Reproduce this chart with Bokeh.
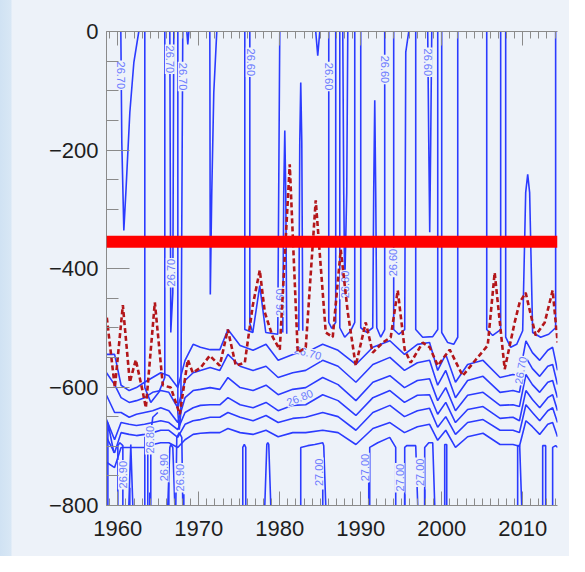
import math
from bokeh.plotting import figure
from bokeh.models import Range1d, FixedTicker, LinearAxis, Span, ColumnDataSource
from bokeh.embed import file_html
from bokeh.resources import INLINE
from bokeh.core.properties import value

# ---------------- data ----------------
# stacked isopycnals in the thermocline band (year, depth m)
stack_years = [1958.6, 1959.6, 1960.4, 1961.4, 1962.3, 1963.3, 1964.3, 1965.3, 1966.3, 1967.4,
               1968.3, 1969.3, 1970.2, 1971.4, 1972.6, 1973.6, 1975.1, 1976.7, 1978.3, 1979.8,
               1981.6, 1983.2, 1985.3, 1987.2, 1989.4, 1991.5, 1993.6, 1995.4, 1997.0, 1998.5,
               1999.5, 2000.5, 2001.7, 2003.2, 2005.1, 2007.2, 2008.8, 2009.6, 2010.4, 2011.2,
               2012.1, 2013.1, 2013.7, 2014.3]
stack_a = [-545, -545, -597, -606, -601, -592, -584, -576, -581, -601, -555, -528, -533, -537, -537,
           -503, -530, -538, -528, -555, -545, -542, -528, -538, -562, -533, -522, -545, -528, -525,
           -572, -545, -592, -562, -555, -584, -579, -581, -522, -542, -555, -538, -533, -572]
stack_b = [-576, -596, -618, -626, -623, -618, -609, -606, -609, -635, -589, -576, -572, -567, -572,
           -545, -565, -572, -565, -584, -576, -572, -555, -565, -592, -562, -550, -572, -559, -555,
           -597, -572, -618, -589, -582, -609, -606, -609, -550, -569, -582, -565, -562, -596]
stack_c = [-614, -643, -643, -651, -646, -643, -640, -635, -640, -660, -618, -606, -604, -601, -604,
           -584, -601, -606, -597, -613, -604, -601, -584, -596, -623, -592, -581, -601, -589, -586,
           -623, -601, -640, -614, -609, -631, -630, -633, -579, -596, -609, -592, -589, -618]
stack_d = [-655, -689, -660, -663, -665, -663, -660, -657, -660, -672, -643, -635, -631, -630, -630,
           -618, -630, -635, -626, -640, -631, -630, -613, -623, -648, -618, -606, -626, -614, -613,
           -646, -626, -660, -638, -633, -653, -651, -657, -606, -621, -635, -618, -613, -640]
stack_e = [-685, -711, -677, -680, -682, -680, -677, -673, -673, -685, -663, -657, -655, -651, -651,
           -643, -651, -657, -648, -660, -653, -651, -643, -650, -673, -643, -631, -650, -640, -636,
           -668, -650, -680, -660, -655, -673, -673, -677, -630, -643, -657, -640, -635, -660]
stack_f = [-727, -736, -702, -702, -702, -702, -697, -694, -694, -702, -689, -680, -678, -677, -677,
           -670, -677, -680, -673, -684, -677, -677, -673, -677, -697, -670, -660, -677, -667, -663,
           -690, -673, -702, -684, -678, -697, -697, -700, -657, -667, -680, -663, -660, -684]

# near-vertical isopycnals reaching the surface (upper layer)
upper_x = [
    [1960.37, 1960.49, 1960.74, 1960.99, 1961.48, 1961.98, 1962.59],
    [1963.33, 1963.33, 1964.07, 1965.06, 1965.80, 1965.80],
    [1966.42, 1966.54, 1966.79, 1966.91],
    [1967.41, 1967.41, 1967.59, 1967.78, 1968.02],
    [1968.52, 1968.64, 1968.77],
    [1971.36, 1971.42, 1971.60, 1971.85, 1972.22],
    [1975.68, 1975.68, 1976.67, 1977.53, 1978.27, 1979.75, 1980.0],
    [1976.30, 1976.30, 1976.67],
    [1980.37, 1980.49, 1980.62, 1980.74, 1980.86],
    [1982.35, 1982.47, 1982.59, 1982.72, 1982.84],
    [1984.44, 1984.69, 1984.94],
    [1986.05, 1986.05, 1986.42, 1986.91, 1986.91],
    [1987.41, 1987.41, 1988.02, 1988.77, 1989.26, 1989.26],
    [1987.78, 1987.90, 1988.02, 1988.27, 1988.40],
    [1990.0, 1990.0, 1990.74, 1991.48, 1991.60, 1991.73, 1991.85, 1991.98, 1992.47, 1992.96, 1992.96],
    [1994.07, 1994.07, 1994.69, 1995.43, 1995.56, 1995.93],
    [1996.79, 1996.79, 1997.65, 1998.89, 1999.51, 1999.51],
    [1998.27, 1998.40, 1998.52, 1998.64, 1998.77],
    [2000.0, 2000.0, 2000.74, 2001.48, 2001.98, 2001.98],
    [2005.56, 2005.56, 2006.30, 2007.28, 2007.28],
    [2007.90, 2007.90, 2008.52, 2009.26, 2010.0, 2010.37, 2010.62, 2010.86, 2011.23, 2012.22,
     2013.21, 2014.07, 2014.07],
]
upper_y = [
    [0, -187, -336, -272, -137, -52, 0],
    [0, -601, -626, -609, -584, 0],
    [0, -508, -441, 0],
    [0, -643, -672, -643, 0],
    [0, -22, 0],
    [0, -444, -272, -103, 0],
    [0, -503, -508, -429, -508, -511, 0],
    [0, -493, -508],
    [-508, -272, -167, -272, -510],
    [-505, -187, -86, -187, -505],
    [0, -41, 0],
    [0, -491, -501, -491, 0],
    [0, -500, -516, -505, -491, 0],
    [0, -272, -432, -272, 0],
    [0, -500, -508, -500, -272, -116, -272, -500, -516, -503, 0],
    [0, -503, -511, -503, -35, 0],
    [0, -503, -516, -515, -503, 0],
    [0, -187, -339, -187, 0],
    [0, -508, -525, -528, -516, 0],
    [0, -503, -513, -503, 0],
    [0, -516, -533, -528, -505, -272, -241, -272, -508, -516, -511, -500, 0],
]

# deep isopycnals (26.90 / 27.00) rising from the bottom
deep_x = [
    [1958.77, 1958.77, 1959.51],
    [1960.0, 1960.0, 1960.25, 1960.62, 1960.62],
    [1961.36, 1961.60, 1961.85],
    [1963.33, 1963.33, 1963.70, 1963.70],
    [1964.07, 1964.07, 1964.32, 1964.94],
    [1966.17, 1966.42, 1966.54, 1966.79, 1967.04],
    [1967.16, 1967.28, 1967.59, 1967.90, 1968.02],
    [1975.43, 1975.43, 1975.62, 1975.80, 1975.80],
    [1978.15, 1978.40, 1978.52, 1978.64, 1978.89],
    [1982.59, 1982.59, 1983.46, 1984.32, 1985.31, 1985.43, 1985.68],
    [1991.11, 1991.11, 1992.10, 1993.58, 1994.32, 1994.32],
    [1995.43, 1995.43, 1995.68, 1996.79, 1997.04],
    [1997.90, 1997.90, 1998.40, 1998.89, 1999.14],
    [2000.37, 2000.37, 2000.62, 2000.62],
    [2009.38, 2009.38, 2009.63, 2009.88],
    [2012.47, 2012.47, 2012.84, 2012.84],
    [2013.70, 2013.70, 2014.07, 2014.32],
]
deep_y = [
    [-800, -660, -711],
    [-800, -699, -694, -699, -800],
    [-800, -697, -800],
    [-800, -685, -685, -800],
    [-800, -677, -651, -643],
    [-800, -702, -697, -702, -800],
    [-800, -685, -677, -685, -800],
    [-800, -702, -697, -702, -800],
    [-800, -697, -694, -697, -800],
    [-800, -702, -699, -697, -694, -699, -800],
    [-800, -702, -694, -685, -702, -800],
    [-800, -702, -699, -699, -800],
    [-800, -702, -694, -694, -800],
    [-800, -697, -697, -800],
    [-800, -699, -699, -800],
    [-800, -699, -699, -800],
    [-800, -702, -699, -702],
]
# short 27.05 contours at the very bottom
short_years = [1961.48, 1963.95, 1966.30, 1968.15, 1985.31, 1990.99, 1995.43, 1997.90]
short_tops = [-770, -778, -761, -781, -773, -761, -781, -773]

# red dashed curve (year, depth)
red_years = [1958.64, 1959.63, 1960.62, 1961.48, 1962.22, 1963.09, 1963.46, 1964.57, 1965.56, 1966.54,
             1967.65, 1968.64, 1969.26, 1970.25, 1971.36, 1972.59, 1973.58, 1974.57, 1975.68, 1976.67,
             1977.53, 1978.15, 1979.14, 1980.0, 1981.23, 1982.22, 1983.21, 1984.44, 1985.68, 1986.54,
             1987.53, 1988.40, 1989.38, 1990.62, 1991.48, 1992.72, 1993.70, 1994.57, 1995.43, 1996.17,
             1997.65, 1998.52, 1999.51, 2000.99, 2002.59, 2004.20, 2005.68, 2006.54, 2007.78, 2009.01,
             2009.63, 2010.37, 2011.60, 2012.72, 2013.70, 2014.32]
red_depth = [-483, -601, -462, -592, -554, -609, -635, -457, -597, -601,
             -646, -554, -576, -567, -547, -564, -503, -564, -559, -462,
             -403, -474, -516, -537, -224, -542, -533, -285, -508, -516,
             -368, -474, -564, -491, -542, -525, -516, -437, -537, -559,
             -525, -533, -564, -537, -581, -554, -530, -407, -570, -491,
             -457, -441, -513, -491, -437, -525]

red_bar_depth = -355

# contour labels
lab_text = ["26.70", "26.70", "26.70", "26.60", "26.60", "26.60", "26.60",
            "26.70", "26.60", "26.60", "26.60", "26.70",
            "26.70", "26.80",
            "26.90", "26.80", "26.90", "26.90", "27.00", "27.00", "27.00", "27.00"]
lab_x = [1960.37, 1966.42, 1968.02, 1976.42, 1986.05, 1992.96, 1998.27,
         1966.54, 1980.0, 1988.02, 1993.95, 2009.75,
         1983.46, 1982.47,
         1960.62, 1963.95, 1965.68, 1967.65, 1984.81, 1990.49, 1994.81, 1997.28]
lab_y = [-74, -47, -76, -52, -76, -64, -52,
         -407, -457, -427, -390, -572,
         -542, -618,
         -748, -689, -736, -753, -744, -736, -753, -744]
lab_rot = [-90, -90, -90, -90, -90, -90, -90,
           90, 90, 90, 90, 80,
           -15, 22,
           90, 90, 90, 90, 90, 90, 90, 90]

x_ticks = [1960, 1970, 1980, 1990, 2000, 2010]
y_ticks = [-800, -600, -400, -200, 0]

# ---------------- figure ----------------
BG = "#edf2f9"
BLUE = "#2b3bff"

p = figure(width=569, height=556, output_backend="svg", toolbar_location=None,
           x_range=Range1d(1958.6, 2014.3), y_range=Range1d(-800, 0),
           min_border_left=106, min_border_right=12, min_border_top=31, min_border_bottom=51,
           x_axis_location=None, y_axis_location=None)
p.title.visible = False
p.background_fill_color = BG
p.border_fill_color = BG
p.border_fill_alpha = 0
p.styles = {"background": "linear-gradient(90deg, #d0e2f3 0px, #d8e7f5 11px, " + BG + " 12px, " + BG + " 100%)"}
p.outline_line_color = None
p.xgrid.visible = False
p.ygrid.visible = False

def style_axis(ax, major_len, minor_len):
    ax.axis_line_color = "#8a8a8a"
    ax.major_tick_line_color = "#8a8a8a"
    ax.minor_tick_line_color = "#8a8a8a"
    ax.major_tick_in = major_len
    ax.major_tick_out = 0
    ax.minor_tick_in = minor_len
    ax.minor_tick_out = 0
    ax.major_label_text_font = "Liberation Sans"
    ax.major_label_text_font_size = "22px"
    ax.major_label_text_color = "#1e1e1e"

xt = FixedTicker(ticks=x_ticks, minor_ticks=list(range(1959, 2015)))
yt = FixedTicker(ticks=y_ticks, minor_ticks=list(range(-800, 1, 50)))

bottom = LinearAxis(ticker=xt)
style_axis(bottom, 14, 7)
bottom.major_label_standoff = 15
p.add_layout(bottom, "below")

top = LinearAxis(ticker=xt)
style_axis(top, 14, 7)
top.major_label_standoff = 0
top.major_label_overrides = {t: "" for t in x_ticks}
p.add_layout(top, "above")

left = LinearAxis(ticker=yt)
style_axis(left, 23, 12)
left.major_label_standoff = 8
left.major_label_overrides = {t: ("\u2212" + str(-t) if t < 0 else str(t)) for t in y_ticks}
p.add_layout(left, "left")

LW = 1.6
# stacked contours
for ys in (stack_a, stack_b, stack_c, stack_d, stack_e, stack_f):
    p.line(stack_years, ys, line_color=BLUE, line_width=LW)

p.multi_line(xs=upper_x, ys=upper_y, line_color=BLUE, line_width=LW)
p.multi_line(xs=deep_x, ys=deep_y, line_color=BLUE, line_width=LW)
p.segment(x0=short_years, y0=[-800] * len(short_years), x1=short_years, y1=short_tops,
          line_color=BLUE, line_width=LW)

# labels
src = ColumnDataSource(dict(x=lab_x, y=lab_y, text=lab_text,
                            angle=[math.radians(a) for a in lab_rot]))
p.text(x="x", y="y", text="text", angle="angle", source=src,
       text_font=value("Liberation Sans"), text_font_size="11px", text_color="#6c7bff",
       text_align="center", text_baseline="middle",
       background_fill_color=BG, padding=1)

# red dashed
p.line(red_years, red_depth, line_color="#b3161a", line_width=2.6, line_dash="5 3")

# thick red bar
p.add_layout(Span(location=red_bar_depth, dimension="width", line_color="#ff0000", line_width=12))

open("out.html", "w").write(file_html(p, INLINE))
